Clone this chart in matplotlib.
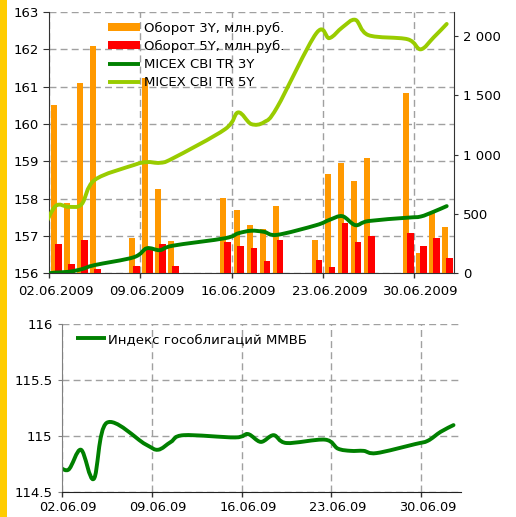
import matplotlib
matplotlib.use('Agg')
import matplotlib.pyplot as plt
import matplotlib.dates as mdates
import numpy as np
from matplotlib.ticker import FixedLocator, FuncFormatter, NullFormatter
from matplotlib.patches import Rectangle, PathPatch
from matplotlib.path import Path
from matplotlib.lines import Line2D

plt.rcParams['font.family'] = ['DejaVu Sans']
plt.rcParams['font.size'] = 9.5

# ---------------- data ----------------
bar_dates = ['2009-06-02', '2009-06-03', '2009-06-04', '2009-06-05', '2009-06-08',
             '2009-06-09', '2009-06-10', '2009-06-11', '2009-06-15', '2009-06-16',
             '2009-06-17', '2009-06-18', '2009-06-19', '2009-06-22', '2009-06-23',
             '2009-06-24', '2009-06-25', '2009-06-26', '2009-06-29', '2009-06-30',
             '2009-07-01', '2009-07-02']
turnover_3y = [1417, 595, 1602, 1913, 300, 1647, 712, 275, 637, 533, 410,
               373, 567, 283, 839, 928, 777, 971, 1518, 174, 511, 393]
turnover_5y = [244, 79, 283, 39, 65, 216, 250, 65, 266, 233, 216,
               104, 283, 115, 56, 426, 266, 314, 342, 233, 300, 132]

line_dates = ['2009-06-01'] + bar_dates
micex_3y = [155.98, 156.02, 156.04, 156.11, 156.22, 156.43, 156.67, 156.62, 156.74,
            156.94, 157.07, 157.14, 157.11, 157.03, 157.29, 157.43, 157.53, 157.29,
            157.40, 157.49, 157.52, 157.65, 157.80]
micex_5y = [157.14, 157.80, 157.78, 157.85, 158.50, 158.90, 158.98, 158.96, 159.08,
            159.86, 160.31, 160.00, 160.05, 160.45, 162.43, 162.30, 162.59, 162.79,
            162.38, 162.27, 162.00, 162.32, 162.68]
bond_index = [114.76, 114.70, 114.88, 114.62, 115.12, 114.93, 114.88, 114.95, 115.01,
              114.99, 115.02, 114.95, 115.01, 114.94, 114.97, 114.89, 114.87, 114.87,
              114.85, 114.93, 114.96, 115.04, 115.10]

week_ticks = ['2009-06-02', '2009-06-09', '2009-06-16', '2009-06-23', '2009-06-30']
top_tick_labels = ['02.06.2009', '09.06.2009', '16.06.2009', '23.06.2009', '30.06.2009']
bottom_tick_labels = ['02.06.09', '09.06.09', '16.06.09', '23.06.09', '30.06.09']

left_ticks = [156, 157, 158, 159, 160, 161, 162, 163]
right_ticks = [0, 500, 1000, 1500, 2000]
bond_ticks = [114.5, 115, 115.5, 116]

labels_top = ['Оборот 3Y, млн.руб.', 'Оборот 5Y, млн руб.', 'MICEX CBI TR 3Y', 'MICEX CBI TR 5Y']
label_bond = 'Индекс гособлигаций ММВБ'

# ---------------- styles ----------------
C_OR = '#FF9900'
C_RED = '#FF0000'
C_DG = '#008000'
C_LG = '#99CC00'
GRID = '#A0A0A0'
DASH = (0, (5, 3))
LW = 2.8


def dn(s):
    return mdates.date2num(np.datetime64(s))


def smooth_line(a, x, y, color):
    """Draw the series as a smoothed (Catmull-Rom / Bezier) line, like Excel's smoothed line."""
    pts = np.column_stack([x, y]).astype(float)
    n = len(pts)
    verts = [pts[0]]
    codes = [Path.MOVETO]
    for i in range(n - 1):
        p0 = pts[i - 1] if i > 0 else pts[i]
        p1 = pts[i]
        p2 = pts[i + 1]
        p3 = pts[i + 2] if i + 2 < n else pts[i + 1]
        verts += [p1 + (p2 - p0) / 6.0, p2 - (p3 - p1) / 6.0, p2]
        codes += [Path.CURVE4] * 3
    patch = PathPatch(Path(verts, codes), facecolor='none', edgecolor=color, lw=LW,
                      capstyle='round', joinstyle='round')
    a.add_patch(patch)
    return patch


xb = np.array([dn(d) for d in bar_dates])
xl = np.array([dn(d) for d in line_dates]) + 0.5
wk = [dn(d) for d in week_ticks]
xmin = dn('2009-06-02')
xmax = dn('2009-07-03') + 0.06

W, H = 516, 517
fig = plt.figure(figsize=(W / 100, H / 100), dpi=100)
fig.add_artist(Rectangle((0, 0), 7 / W, 1, transform=fig.transFigure,
                         facecolor='#FFCC00', edgecolor='none'))


def setup_xaxis(a, labels, pad, size):
    a.set_xlim(xmin, xmax)
    a.xaxis.set_major_locator(FixedLocator(wk))
    a.xaxis.set_major_formatter(NullFormatter())
    a.xaxis.set_minor_locator(FixedLocator([w + 0.5 for w in wk]))
    a.xaxis.set_minor_formatter(FuncFormatter(
        lambda v, p: labels[p] if p is not None and p < len(labels) else ''))
    a.tick_params(axis='x', which='major', direction='out', length=3.6, width=1, color='#333333')
    a.tick_params(axis='x', which='minor', length=0, pad=pad, labelsize=size)


# ---------------- top chart ----------------
ax = fig.add_axes([49 / W, 1 - 273.3 / H, 405 / W, 261.3 / H])
setup_xaxis(ax, top_tick_labels, 8.4, 9.5)
ax.set_ylim(156, 163)
ax.set_yticks(left_ticks)
ax.yaxis.set_major_formatter(FuncFormatter(lambda v, p: '%d' % v))
ax.tick_params(axis='y', direction='out', length=4.5, pad=2.7, color='#333333')
ax.grid(True, which='major', color=GRID, linestyle=DASH, linewidth=1.0)
for s in ['top', 'right', 'bottom']:
    ax.spines[s].set_visible(False)
ax.spines['left'].set_color('#333333')
ax.set_axisbelow(True)

ax2 = ax.twinx()
ax2.set_ylim(0, 2200)
b1 = ax2.bar(xb + 0.38, turnover_3y, width=0.46, color=C_OR, label=labels_top[0], zorder=2)
b2 = ax2.bar(xb + 0.71, turnover_5y, width=0.51, color=C_RED, label=labels_top[1], zorder=3)
ax2.set_yticks(right_ticks)
ax2.yaxis.set_major_formatter(FuncFormatter(
    lambda v, p: ('{:,}'.format(int(v))).replace(',', ' ')))
ax2.tick_params(axis='y', direction='out', length=3, pad=3.6, color='#333333')
for s in ['top', 'left']:
    ax2.spines[s].set_visible(False)
ax2.spines['right'].set_color('#333333')
ax2.spines['bottom'].set_color('#333333')

ax3 = ax.twinx()
ax3.set_xlim(xmin, xmax)
ax3.set_ylim(156, 163)
smooth_line(ax3, xl, micex_3y, C_DG)
smooth_line(ax3, xl, micex_5y, C_LG)
ax3.yaxis.set_visible(False)
for s in ax3.spines.values():
    s.set_visible(False)
l1 = Line2D([], [], color=C_DG, lw=LW, solid_capstyle='butt', label=labels_top[2])
l2 = Line2D([], [], color=C_LG, lw=LW, solid_capstyle='butt', label=labels_top[3])

ax3.legend(handles=[b1, b2, l1, l2], loc='upper left',
           bbox_to_anchor=(108 / W, 1 - 21.5 / H), bbox_transform=fig.transFigure,
           frameon=False, borderpad=0, borderaxespad=0, handlelength=2.42,
           handletextpad=0.3, labelspacing=0.395, fontsize=9.5, handleheight=0.62)

# ---------------- bottom chart ----------------
bx = fig.add_axes([61.7 / W, 1 - 492.3 / H, 399 / W, 168 / H])
setup_xaxis(bx, bottom_tick_labels, 6.6, 9.3)
bx.set_ylim(114.5, 116)
bx.set_yticks(bond_ticks)
bx.yaxis.set_major_formatter(FuncFormatter(lambda v, p: '%g' % v))
bx.tick_params(axis='y', direction='out', length=3.2, pad=3.4, color='#808080')
bx.grid(True, which='major', color=GRID, linestyle=DASH, linewidth=1.0)
for s in ['top', 'right']:
    bx.spines[s].set_visible(False)
bx.spines['left'].set_color('#808080')
bx.spines['bottom'].set_color('#222222')
bx.set_axisbelow(True)
smooth_line(bx, xl, bond_index, C_DG)
lb = Line2D([], [], color=C_DG, lw=LW, solid_capstyle='butt', label=label_bond)
bx.legend(handles=[lb], loc='upper left',
          bbox_to_anchor=(76 / W, 1 - 333 / H), bbox_transform=fig.transFigure,
          frameon=False, borderpad=0, borderaxespad=0, handlelength=2.3,
          handletextpad=0.15, fontsize=9.5)

fig.savefig('out.png', dpi=100)
